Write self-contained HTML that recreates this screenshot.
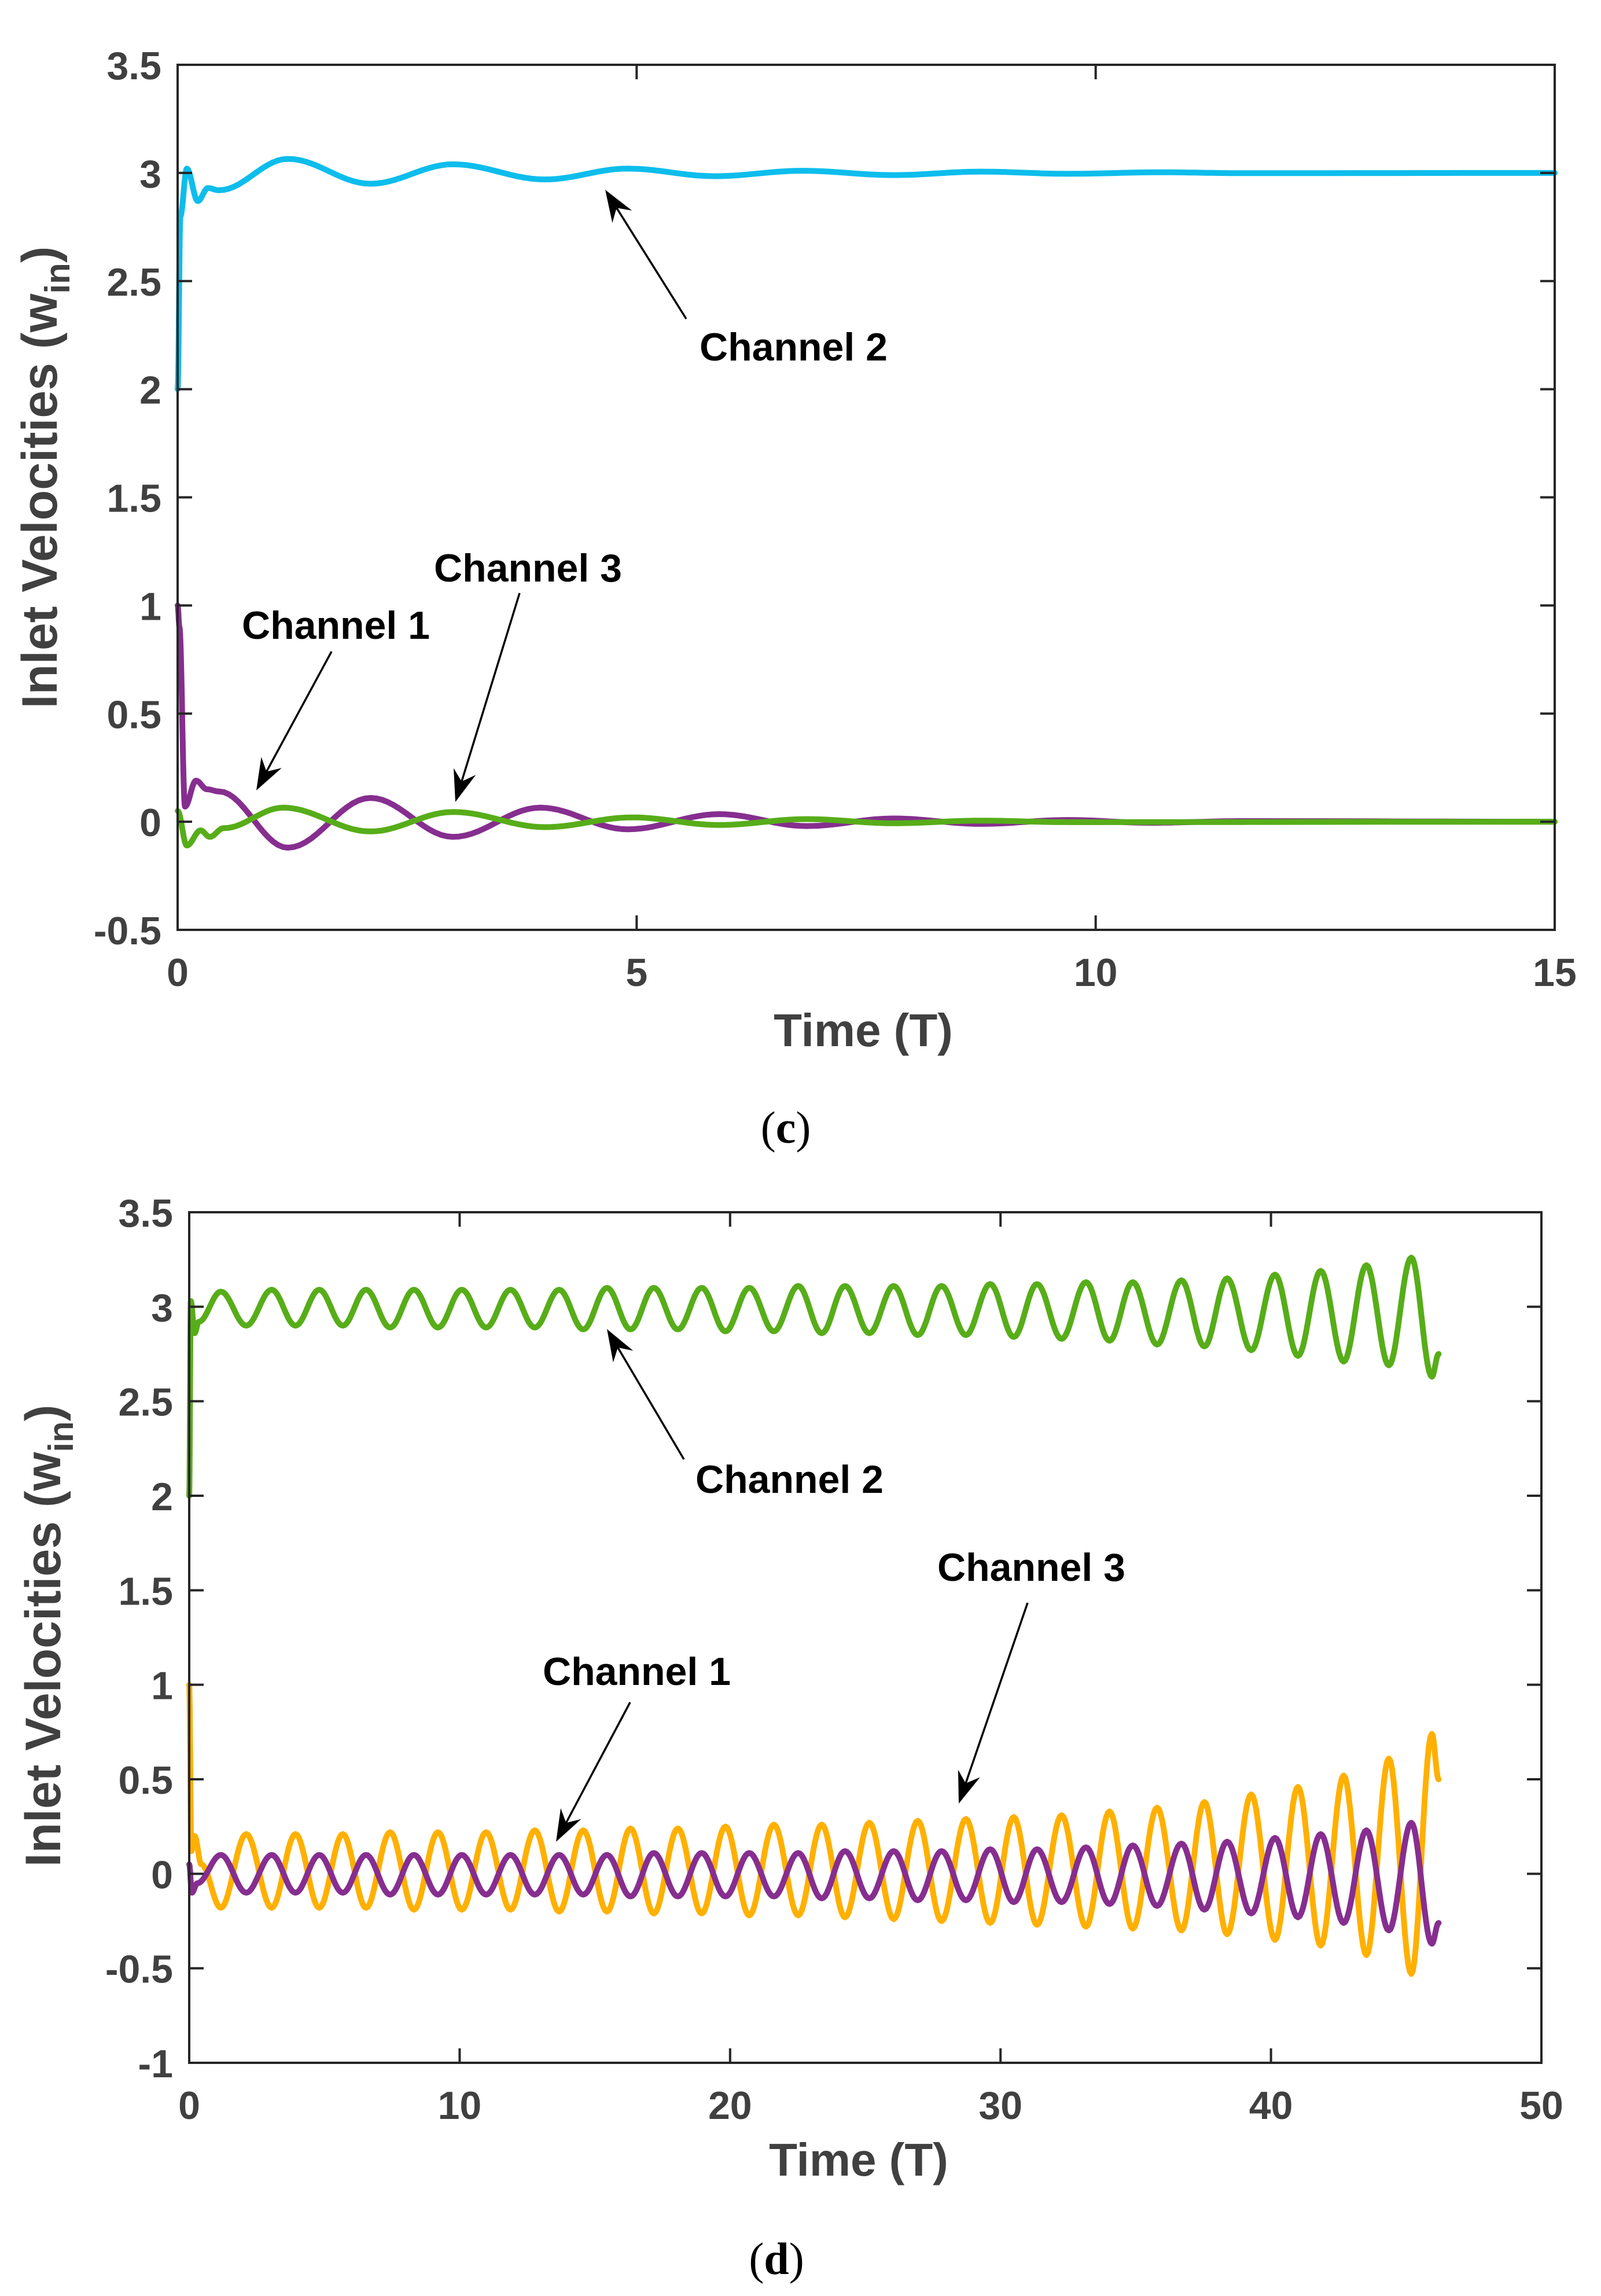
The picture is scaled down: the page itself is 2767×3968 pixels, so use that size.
<!DOCTYPE html>
<html>
<head>
<meta charset="utf-8">
<style>
  html,body{margin:0;padding:0;background:#fff;}
  svg{display:block;}
  text{font-family:"Liberation Sans",Arial,sans-serif;}
  .tick{font-size:68px;font-weight:bold;fill:#404040;}
  .axt{font-size:80px;font-weight:bold;fill:#404040;}
  .ayt{font-size:86px;font-weight:bold;fill:#404040;}
  .ann{font-size:68px;font-weight:bold;fill:#000;}
  .cap{font-family:"Liberation Serif",serif;font-size:78px;fill:#000;}
</style>
</head>
<body>
<svg id="fig" xmlns="http://www.w3.org/2000/svg" width="2767" height="3968" viewBox="0 0 2767 3968">
  <rect x="0" y="0" width="2767" height="3968" fill="#fff"/>
  <g id="panelC"></g>
  <g id="panelD"></g>
</svg>
<script>
// ---------- Panel (c) data ----------
const cXTicks = [0, 5, 10, 15];
const cYTicks = [-0.5, 0, 0.5, 1, 1.5, 2, 2.5, 3, 3.5];
const cYTickLabels = ["-0.5","0","0.5","1","1.5","2","2.5","3","3.5"];
const cCh2T = [0, 0.03, 0.1, 0.22, 0.33, 0.45, 1.2, 2.1, 3.0, 4.0, 4.9, 5.85, 6.8, 7.8, 8.75, 9.7, 10.7, 11.6, 15];
const cCh2V = [2.0, 2.8, 3.02, 2.87, 2.93, 2.92, 3.065, 2.95, 3.04, 2.97, 3.02, 2.985, 3.01, 2.99, 3.006, 2.996, 3.003, 2.999, 3.0];
const cCh1T = [0, 0.02, 0.08, 0.2, 0.32, 0.45, 1.2, 2.1, 3.0, 3.95, 4.9, 5.9, 6.85, 7.8, 8.75, 9.7, 10.6, 11.6, 15];
const cCh1V = [1.0, 0.9, 0.07, 0.19, 0.15, 0.14, -0.12, 0.11, -0.07, 0.065, -0.035, 0.035, -0.02, 0.015, -0.01, 0.008, -0.005, 0.003, 0];
const cCh3T = [0, 0.1, 0.25, 0.35, 0.5, 1.15, 2.1, 3.0, 4.0, 4.95, 5.9, 6.85, 7.8, 8.75, 9.7, 15];
const cCh3V = [0.05, -0.11, -0.04, -0.07, -0.03, 0.065, -0.045, 0.045, -0.025, 0.02, -0.015, 0.012, -0.007, 0.005, -0.002, 0];

// ---------- Panel (d) data ----------
const dXTicks = [0, 10, 20, 30, 40, 50];
const dYTicks = [-1, -0.5, 0, 0.5, 1, 1.5, 2, 2.5, 3, 3.5];
const dYTickLabels = ["-1","-0.5","0","0.5","1","1.5","2","2.5","3","3.5"];
const dPeakT = [1.17, 3.05, 4.81, 6.54, 8.31, 10.08, 11.88, 13.68, 15.45, 17.18, 18.95, 20.71, 22.52, 24.25, 26.05, 27.82, 29.62, 31.35, 33.16, 34.89, 36.69, 38.38, 40.15, 41.84, 43.53, 45.19];
const dTroughT = [2.11, 3.93, 5.68, 7.43, 9.20, 10.98, 12.78, 14.57, 16.32, 18.07, 19.83, 21.62, 23.39, 25.15, 26.94, 28.72, 30.49, 32.26, 34.03, 35.79, 37.54, 39.27, 41.0, 42.69, 44.36, 45.95];
const dCh2Peak = [3.08,3.09,3.09,3.09,3.09,3.09,3.09,3.09,3.10,3.10,3.10,3.10,3.11,3.11,3.11,3.11,3.12,3.12,3.13,3.13,3.14,3.15,3.17,3.19,3.22,3.26];
const dCh2Trough = [2.90,2.90,2.90,2.89,2.89,2.89,2.89,2.88,2.88,2.88,2.87,2.87,2.86,2.86,2.85,2.85,2.84,2.83,2.82,2.80,2.79,2.77,2.74,2.71,2.69,2.63];
const dCh1Peak = [0.10,0.10,0.10,0.10,0.10,0.10,0.10,0.10,0.10,0.11,0.11,0.11,0.11,0.12,0.12,0.12,0.13,0.13,0.14,0.15,0.16,0.17,0.19,0.21,0.23,0.27];
const dCh1Trough = [-0.10,-0.10,-0.10,-0.11,-0.11,-0.11,-0.11,-0.11,-0.12,-0.12,-0.12,-0.12,-0.13,-0.13,-0.14,-0.14,-0.15,-0.15,-0.16,-0.17,-0.19,-0.21,-0.23,-0.26,-0.30,-0.37];
const dCh3Trough = [-0.18,-0.18,-0.18,-0.18,-0.19,-0.19,-0.19,-0.20,-0.20,-0.21,-0.21,-0.22,-0.22,-0.23,-0.24,-0.25,-0.26,-0.27,-0.28,-0.29,-0.30,-0.32,-0.35,-0.38,-0.43,-0.53];
const dCh3Peak = [0.21,0.21,0.21,0.22,0.22,0.22,0.23,0.23,0.24,0.24,0.25,0.26,0.26,0.27,0.28,0.29,0.30,0.31,0.33,0.35,0.38,0.42,0.46,0.52,0.61,0.74];
const dCh2StartT = [0, 0.06, 0.2, 0.35];
const dCh2StartV = [2.0, 3.03, 2.86, 2.92];
const dCh2End = [46.2, 2.75];
const dCh1StartT = [0, 0.1, 0.3];
const dCh1StartV = [0.05, -0.1, -0.05];
const dCh1End = [46.2, -0.26];
const dCh3StartT = [0, 0.08, 0.2, 0.45];
const dCh3StartV = [1.0, 0.12, 0.2, 0.05];
const dCh3End = [46.2, 0.5];

const NS = "http://www.w3.org/2000/svg";
function mk(tag, attrs, parent){
  const e = document.createElementNS(NS, tag);
  for (const k in attrs) e.setAttribute(k, attrs[k]);
  parent.appendChild(e);
  return e;
}

function cosPath(ts, vs, sx, sy){
  let d = "M" + sx(ts[0]).toFixed(1) + "," + sy(vs[0]).toFixed(1);
  for (let i = 0; i < ts.length - 1; i++){
    const n = 14;
    for (let j = 1; j <= n; j++){
      const s = j / n;
      const t = ts[i] + (ts[i+1] - ts[i]) * s;
      const v = vs[i] + (vs[i+1] - vs[i]) * (1 - Math.cos(Math.PI * s)) / 2;
      d += "L" + sx(t).toFixed(1) + "," + sy(v).toFixed(1);
    }
  }
  return d;
}

function drawAxes(g, box, xTicks, yTicks, yLabels, sx, sy){
  const frame = mk("rect", {x:box.l, y:box.t, width:box.r-box.l, height:box.b-box.t, fill:"none", stroke:"#262626", "stroke-width":4}, g);
  
  
  const tl = 25;
  xTicks.forEach(v => {
    const x = sx(v);
    const t1 = mk("line", {x1:x, y1:box.b, x2:x, y2:box.b - tl, stroke:"#262626", "stroke-width":4}, g);
    
    
    const t2 = mk("line", {x1:x, y1:box.t, x2:x, y2:box.t + tl, stroke:"#262626", "stroke-width":4}, g);
    
    
    const lb = mk("text", {x:x, y:box.b + 97, "text-anchor":"middle", class:"tick"}, g);
    lb.textContent = String(v);
    
    
  });
  yTicks.forEach((v, i) => {
    const y = sy(v);
    const t1 = mk("line", {x1:box.l, y1:y, x2:box.l + tl, y2:y, stroke:"#262626", "stroke-width":4}, g);
    
    
    const t2 = mk("line", {x1:box.r, y1:y, x2:box.r - tl, y2:y, stroke:"#262626", "stroke-width":4}, g);
    
    
    const lb = mk("text", {x:box.l - 28, y:y + 25, "text-anchor":"end", class:"tick"}, g);
    lb.textContent = yLabels[i];
    
    
  });
}

function drawSeries(g, d, color, name){
  const p = mk("path", {d:d, fill:"none", stroke:color, "stroke-width":10, "stroke-linejoin":"round", "stroke-linecap":"round"}, g);
  
  
}

function drawArrow(g, x1, y1, x2, y2, name){
  const ag = mk("g", {}, g);
  
  
  const dx = x2 - x1, dy = y2 - y1, L = Math.hypot(dx, dy);
  const ux = dx / L, uy = dy / L, hl = 55, hw = 20;
  const bx = x2 - ux * hl, by = y2 - uy * hl;
  const nx = bx + ux * 18, ny = by + uy * 18;
  mk("line", {x1:x1, y1:y1, x2:nx, y2:ny, stroke:"#000", "stroke-width":3.5}, ag);
  const pts = [[x2,y2],[bx - uy*hw, by + ux*hw],[nx, ny],[bx + uy*hw, by - ux*hw]];
  mk("polygon", {points: pts.map(p => p[0].toFixed(1)+","+p[1].toFixed(1)).join(" "), fill:"#000"}, ag);
}

function label(g, x, y, txt, cls, name, anchor){
  const t = mk("text", {x:x, y:y, class:cls, "text-anchor":anchor || "start"}, g);
  t.textContent = txt;
  
  
  return t;
}

function yTitle(g, cx, cy, name){
  const t = mk("text", {transform:"translate("+cx+","+cy+") rotate(-90)", "text-anchor":"middle", class:"ayt"}, g);
  
  
  const s1 = mk("tspan", {}, t); s1.textContent = "Inlet Velocities (w";
  const s2 = mk("tspan", {dy:22, "font-size":60}, t); s2.textContent = "in";
  const s3 = mk("tspan", {dy:-22}, t); s3.textContent = ")";
}

// ---------- Panel (c) ----------
(function(){
  const g = document.getElementById("panelC");
  const box = {l:307, r:2687, t:112, b:1607};
  const sx = t => box.l + (t - 0) / 15 * (box.r - box.l);
  const sy = v => box.b - (v + 0.5) / 4 * (box.b - box.t);
  drawSeries(g, cosPath(cCh2T, cCh2V, sx, sy), "#0DBDEC", "channel-2-line");
  drawSeries(g, cosPath(cCh1T, cCh1V, sx, sy), "#862E8F", "channel-1-line");
  drawSeries(g, cosPath(cCh3T, cCh3V, sx, sy), "#57AD19", "channel-3-line");
  drawAxes(g, box, cXTicks, cYTicks, cYTickLabels, sx, sy);
  label(g, 1209, 623, "Channel 2", "ann", "channel-2-label");
  drawArrow(g, 1186, 551, 1046, 328, "channel-2-arrow");
  label(g, 750, 1005, "Channel 3", "ann", "channel-3-label");
  drawArrow(g, 898, 1025, 787, 1386, "channel-3-arrow");
  label(g, 418, 1104, "Channel 1", "ann", "channel-1-label");
  drawArrow(g, 573, 1126, 443, 1366, "channel-1-arrow");
  label(g, 1492, 1808, "Time (T)", "axt", "x-axis-title", "middle");
  yTitle(g, 98, 825, "y-axis-title");
  const c = label(g, 1358, 1975, "", "cap", "panel-c-caption", "middle");
  const a = mk("tspan", {}, c); a.textContent = "(";
  const b = mk("tspan", {"font-weight":"bold"}, c); b.textContent = "c";
  const e = mk("tspan", {}, c); e.textContent = ")";
})();

// ---------- Panel (d) ----------
(function(){
  const g = document.getElementById("panelD");
  const box = {l:327, r:2664, t:2095, b:3565};
  const sx = t => box.l + t / 50 * (box.r - box.l);
  const sy = v => box.b - (v + 1) / 4.5 * (box.b - box.t);
  let gT = dCh2StartT.slice(), gV = dCh2StartV.slice();
  let pT = dCh1StartT.slice(), pV = dCh1StartV.slice();
  let oT = dCh3StartT.slice(), oV = dCh3StartV.slice();
  for (let k = 0; k < dPeakT.length; k++){
    gT.push(dPeakT[k]); gV.push(dCh2Peak[k]);
    gT.push(dTroughT[k]); gV.push(dCh2Trough[k]);
    pT.push(dPeakT[k]); pV.push(dCh1Peak[k]);
    pT.push(dTroughT[k]); pV.push(dCh1Trough[k]);
    oT.push(dPeakT[k]); oV.push(dCh3Trough[k]);
    oT.push(dTroughT[k]); oV.push(dCh3Peak[k]);
  }
  gT.push(dCh2End[0]); gV.push(dCh2End[1]);
  pT.push(dCh1End[0]); pV.push(dCh1End[1]);
  oT.push(dCh3End[0]); oV.push(dCh3End[1]);
  drawSeries(g, cosPath(gT, gV, sx, sy), "#57AD19", "channel-2-line");
  drawSeries(g, cosPath(oT, oV, sx, sy), "#FFB000", "channel-3-line");
  drawSeries(g, cosPath(pT, pV, sx, sy), "#862E8F", "channel-1-line");
  drawAxes(g, box, dXTicks, dYTicks, dYTickLabels, sx, sy);
  label(g, 1202, 2580, "Channel 2", "ann", "channel-2-label");
  drawArrow(g, 1182, 2522, 1049, 2297, "channel-2-arrow");
  label(g, 1620, 2732, "Channel 3", "ann", "channel-3-label");
  drawArrow(g, 1776, 2770, 1657, 3117, "channel-3-arrow");
  label(g, 938, 2912, "Channel 1", "ann", "channel-1-label");
  drawArrow(g, 1089, 2942, 961, 3183, "channel-1-arrow");
  label(g, 1484, 3760, "Time (T)", "axt", "x-axis-title", "middle");
  yTitle(g, 104, 2827, "y-axis-title");
  const c = label(g, 1342, 3930, "", "cap", "panel-d-caption", "middle");
  const a = mk("tspan", {}, c); a.textContent = "(";
  const b = mk("tspan", {"font-weight":"bold"}, c); b.textContent = "d";
  const e = mk("tspan", {}, c); e.textContent = ")";
})();
</script>
</body>
</html>
